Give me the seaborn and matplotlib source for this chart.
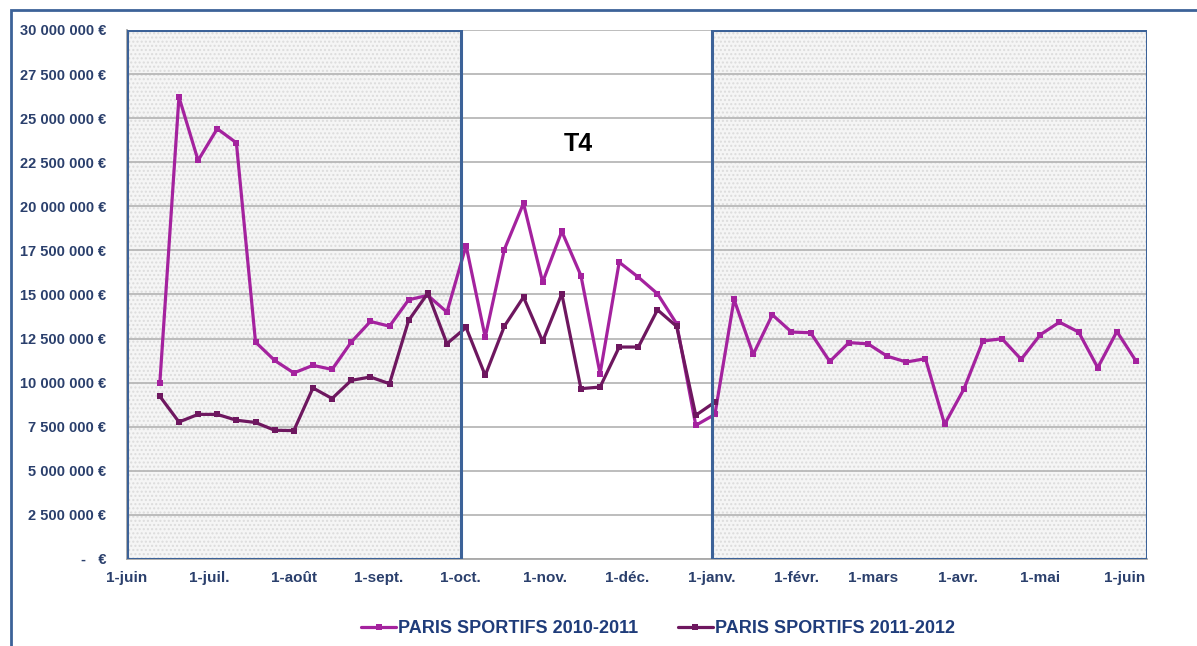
import pandas as pd
import seaborn as sns
import matplotlib.pyplot as plt
from matplotlib.ticker import FuncFormatter
from matplotlib.patches import Rectangle

# weekly totals (EUR), first week = 13 June
start_week = '2010-06-13'
paris_2010_2011 = [9.96, 26.2, 22.6, 24.4, 23.6, 12.3, 11.26, 10.55, 10.98, 10.75,
                   12.3, 13.47, 13.2, 14.7, 14.95, 14.0, 17.77, 12.58, 17.55, 20.17,
                   15.7, 18.58, 16.07, 10.51, 16.83, 15.98, 15.04, 13.34, 7.58, 8.2,
                   14.72, 11.6, 13.85, 12.87, 12.83, 11.2, 12.27, 12.2, 11.5, 11.17,
                   11.36, 7.64, 9.62, 12.36, 12.49, 11.32, 12.72, 13.43, 12.87, 10.85,
                   12.9, 11.22]
paris_2011_2012 = [9.23, 7.77, 8.2, 8.2, 7.87, 7.74, 7.3, 7.28, 9.7, 9.1,
                   10.13, 10.32, 9.94, 13.53, 15.07, 12.21, 13.13, 10.41, 13.2, 14.85,
                   12.34, 15.04, 9.66, 9.75, 12.02, 12.02, 14.13, 13.19, 8.15, 8.9]
series_names = ['PARIS SPORTIFS 2010-2011', 'PARIS SPORTIFS 2011-2012']
month_labels = ['1-juin', '1-juil.', '1-août', '1-sept.', '1-oct.', '1-nov.', '1-déc.',
                '1-janv.', '1-févr.', '1-mars', '1-avr.', '1-mai', '1-juin']

weeks = pd.date_range(start_week, periods=len(paris_2010_2011), freq='7D')
df = pd.concat([
    pd.DataFrame({'semaine': weeks, 'mises': [v * 1e6 for v in paris_2010_2011],
                  'saison': series_names[0]}),
    pd.DataFrame({'semaine': weeks[:len(paris_2011_2012)],
                  'mises': [v * 1e6 for v in paris_2011_2012],
                  'saison': series_names[1]}),
])

sns.set_style('white')
plt.rcParams['font.family'] = ['Liberation Sans', 'DejaVu Sans']

txt_col = '#2A3F6C'
blue = '#3C6298'

fig = plt.figure(figsize=(11.97, 6.46), dpi=100)
ax = fig.add_axes([0.1061, 0.1347, 0.8521, 0.8189])

x0, x1 = pd.Timestamp('2010-06-01'), pd.Timestamp('2011-06-09')
q_start, q_end = pd.Timestamp('2010-10-01'), pd.Timestamp('2011-01-01')

# shaded quarters with dotted pattern
for a, b in [(x0, q_start), (q_end, x1)]:
    ax.axvspan(a, b, facecolor='#F5F5F5', edgecolor='#DCDCDC', hatch='....',
               linewidth=0, zorder=0)

ax.yaxis.grid(True, color='#B8B8B8', linewidth=1.3, zorder=1)
ax.set_axisbelow(True)

sns.lineplot(data=df, x='semaine', y='mises', hue='saison', ax=ax,
             palette=['#A4229E', '#6E175F'], marker='s', markersize=4,
             markeredgewidth=0, linewidth=2.3, zorder=3)

for a, b in [(x0, q_start), (q_end, x1)]:
    ax.axvspan(a, b, facecolor='none', edgecolor=blue, linewidth=2.2, zorder=4)

ax.text(pd.Timestamp('2010-11-13'), 23.56e6, 'T4', fontsize=18, fontweight='bold',
        ha='center', va='center', color='black')

ax.set_xlim(x0, x1)
ax.set_ylim(0, 30e6)
ax.set_yticks([i * 2.5e6 for i in range(13)])
ax.yaxis.set_major_formatter(FuncFormatter(
    lambda v, p: '-   €' if v == 0 else f'{int(v):,} €'.replace(',', ' ')))
ticks = pd.date_range('2010-06-01', periods=len(month_labels), freq='MS')
ax.set_xticks(ticks)
ax.set_xticklabels(month_labels)

for s in ['top', 'right']:
    ax.spines[s].set_visible(False)
for s in ['left', 'bottom']:
    ax.spines[s].set_color('#A8A8A8')
    ax.spines[s].set_linewidth(1.3)
ax.tick_params(axis='x', colors='#A8A8A8', length=5, width=1.2, pad=4,
               labelcolor=txt_col, labelsize=11)
ax.tick_params(axis='y', colors='#A8A8A8', length=5, width=1.2, pad=10,
               labelcolor=txt_col, labelsize=10.5)
for lbl in ax.get_xticklabels() + ax.get_yticklabels():
    lbl.set_fontweight('bold')
ax.set_xlabel('')
ax.set_ylabel('')

handles, labels = ax.get_legend_handles_labels()
ax.get_legend().remove()
leg = fig.legend(handles, labels, loc='center', bbox_to_anchor=(0.55, 0.027), ncol=2,
                 frameon=False, handlelength=1.9, columnspacing=2.2, handletextpad=0.15,
                 prop={'weight': 'bold', 'size': 13})
for t in leg.get_texts():
    t.set_color('#1F3C7A')

# outer frame of the original picture
fig.patches.append(Rectangle((0.0092, -0.2), 1.5, 1.1845, transform=fig.transFigure,
                             fill=False, edgecolor=blue, linewidth=2, clip_on=False))

fig.savefig('out.png', dpi=100, facecolor='white')
